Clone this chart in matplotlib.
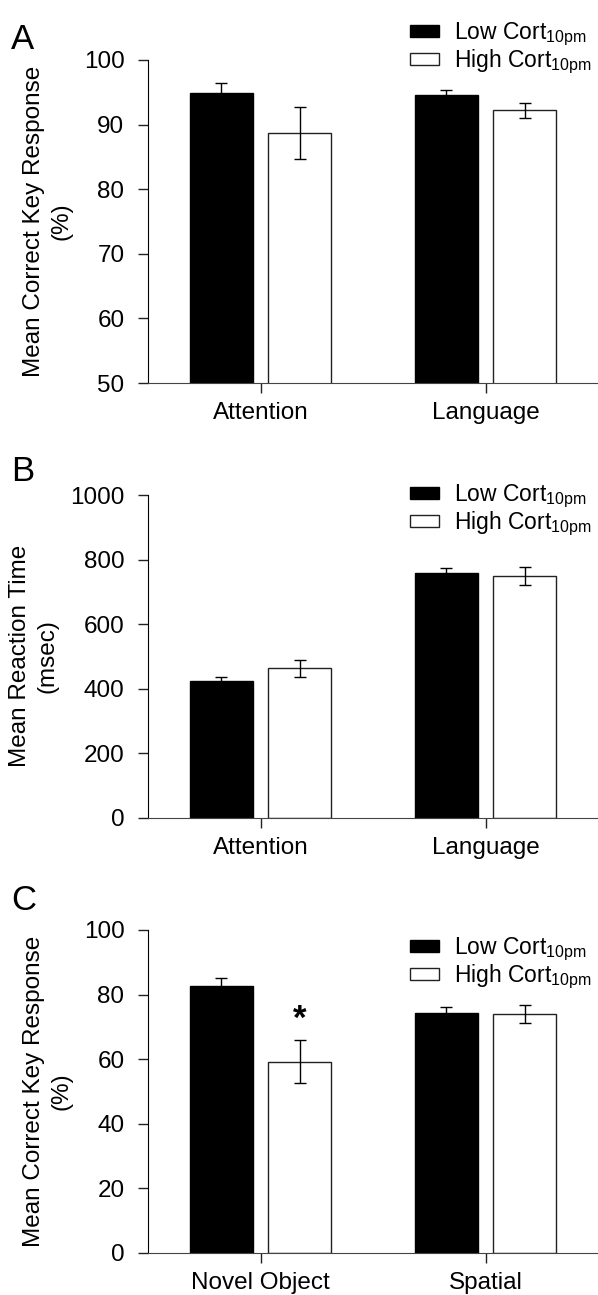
import matplotlib
matplotlib.use('Agg')
import matplotlib.pyplot as plt
from matplotlib.patches import Patch

plt.rcParams['font.family'] = ['Liberation Sans', 'DejaVu Sans']
plt.rcParams['mathtext.fontset'] = 'custom'
plt.rcParams['mathtext.rm'] = 'Liberation Sans'

# данные
groups_ab = ['Attention', 'Language']
groups_c = ['Novel Object', 'Spatial']
series = ['Low Cort$_{\\mathregular{10pm}}$', 'High Cort$_{\\mathregular{10pm}}$']

acc_low = [94.9, 94.6]
acc_low_se = [1.5, 0.7]
acc_high = [88.7, 92.2]
acc_high_se = [4.1, 1.15]

rt_low = [424, 758]
rt_low_se = [12, 16]
rt_high = [463, 748]
rt_high_se = [27, 28]

mem_low = [82.7, 74.2]
mem_low_se = [2.5, 2.0]
mem_high = [59.2, 74.0]
mem_high_se = [6.7, 2.7]

W, H = 598, 1295
fig = plt.figure(figsize=(W / 100, H / 100), dpi=100)

FS = 17.5
LFS = 16.5
bw = 0.28
off = 0.175


def px_axes(top, bottom, left=148, right=598):
    return [left / W, 1 - bottom / H, (right - left) / W, (bottom - top) / H]


def panel(rect, groups, low, low_se, high, high_se, ylim, yticks, ylabel, letter, letter_top, leg_top):
    ax = fig.add_axes(rect)
    x = range(len(groups))
    xl = [i - off for i in x]
    xh = [i + off for i in x]
    ax.bar(xl, low, bw, color='black', edgecolor='black', lw=1, zorder=2)
    ax.bar(xh, high, bw, color='white', edgecolor='#222222', lw=1, zorder=2)
    ax.errorbar(xl, low, yerr=low_se, fmt='none', ecolor='black', elinewidth=1, capsize=4, capthick=1, zorder=3)
    ax.errorbar(xh, high, yerr=high_se, fmt='none', ecolor='black', elinewidth=1, capsize=4, capthick=1, zorder=3)
    ax.set_xlim(-0.5, 1.5)
    ax.set_ylim(*ylim)
    ax.set_yticks(yticks)
    ax.set_xticks(list(x))
    ax.set_xticklabels(groups)
    ax.spines['top'].set_visible(False)
    ax.spines['right'].set_visible(False)
    ax.spines['left'].set_color('black')
    ax.spines['bottom'].set_color('#444444')
    ax.tick_params(axis='both', direction='out', length=7, width=1, labelsize=FS, color='#222222')
    ax.tick_params(axis='y', pad=10)
    ax.tick_params(axis='x', pad=7)
    ax.set_ylabel(ylabel, fontsize=FS, labelpad=8, linespacing=1.35)
    fig.text(11 / W, 1 - letter_top / H, letter, fontsize=25, ha='left', va='top')
    handles = [Patch(facecolor='black', edgecolor='black', lw=1),
               Patch(facecolor='white', edgecolor='#222222', lw=1)]
    fig.legend(handles, series, loc='upper left', bbox_to_anchor=(410 / W, 1 - leg_top / H),
               frameon=False, fontsize=LFS, borderpad=0, borderaxespad=0,
               handlelength=1.27, handleheight=0.42, handletextpad=0.65, labelspacing=-0.05)
    return ax


panel(px_axes(60, 383), groups_ab, acc_low, acc_low_se, acc_high, acc_high_se,
      (50, 100), [50, 60, 70, 80, 90, 100], 'Mean Correct Key Response\n(%)', 'A', 23, 21)
panel(px_axes(495, 817.7), groups_ab, rt_low, rt_low_se, rt_high, rt_high_se,
      (0, 1000), [0, 200, 400, 600, 800, 1000], 'Mean Reaction Time\n(msec)', 'B', 455, 483)
axc = panel(px_axes(930, 1252.7), groups_c, mem_low, mem_low_se, mem_high, mem_high_se,
            (0, 100), [0, 20, 40, 60, 80, 100], 'Mean Correct Key Response\n(%)', 'C', 884, 936)

# звёздочка значимости над High Cort (Novel Object)
axc.text(0 + off, mem_high[0] + mem_high_se[0] + 6.5, '*', fontsize=25, fontweight='bold',
         ha='center', va='center')

fig.savefig('out.png', dpi=100)
